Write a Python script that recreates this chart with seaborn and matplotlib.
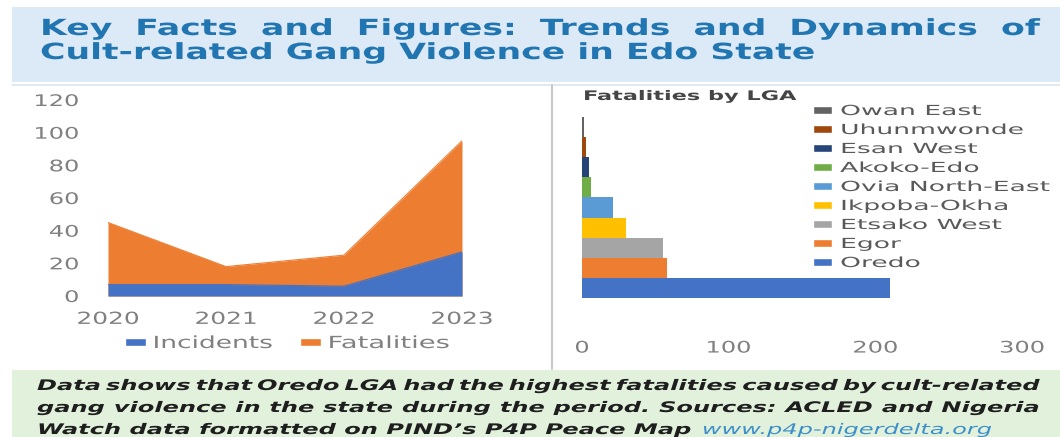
import matplotlib
matplotlib.use("Agg")
import matplotlib.pyplot as plt
import matplotlib.patheffects as pe
from matplotlib.patches import Rectangle, Patch
from matplotlib.lines import Line2D
from matplotlib.transforms import Affine2D
import seaborn as sns
import pandas as pd

# ---------------- data ----------------
years = [2020, 2021, 2022, 2023]
incidents = [7, 7, 6, 27]
fatalities = [45, 18, 25, 95]

lga_names = ["Owan East", "Uhunmwonde", "Esan West", "Akoko-Edo", "Ovia North-East",
             "Ikpoba-Okha", "Etsako West", "Egor", "Oredo"]
lga_fatalities = [1.5, 3, 4.5, 6, 21, 30, 55, 58, 210]
lga_colors = ["#636363", "#9E480E", "#264478", "#70AD47", "#5B9BD5",
              "#FFC000", "#A5A5A5", "#ED7D31", "#4472C4"]

title_lines = ["Key Facts and Figures: Trends and Dynamics of",
               "Cult-related Gang Violence in Edo State"]
note_lines = ["Data shows that Oredo LGA had the highest fatalities caused by cult-related",
              "gang violence in the state during the period. Sources: ACLED and Nigeria",
              "Watch data formatted on PIND\u2019s P4P Peace Map"]
note_link = "www.p4p-nigerdelta.org"


# horizontal stretch of glyph outlines (text stays a real Text artist)
class Stretch(pe.AbstractPathEffect):
    def __init__(self, sx, anchor="left"):
        super().__init__()
        self.sx = sx
        self.anchor = anchor

    def draw_path(self, renderer, gc, tpath, affine, rgbFace=None):
        if self.anchor == "left":
            x0 = affine.get_matrix()[0, 2]
        else:
            ext = tpath.get_extents(affine)
            x0 = 0.5 * (ext.x0 + ext.x1) if self.anchor == "center" else ext.x1
        new = affine + Affine2D().translate(-x0, 0).scale(self.sx, 1).translate(x0, 0)
        renderer.draw_path(gc, tpath, new, rgbFace)


# ---------------- figure ----------------
sns.set_theme(style="white")
plt.rcParams['font.family'] = ['DejaVu Sans']
W, H = 1060, 437
fig = plt.figure(figsize=(W / 100, H / 100), dpi=100)
fig.patch.set_facecolor("white")
renderer = fig.canvas.get_renderer()


def fx(px):
    return px / W


def fy(py):
    return 1 - py / H


def width_of(t):
    return t.get_window_extent(renderer).width


def fit(t, target, anchor="left"):
    sx = target / width_of(t)
    t.set_path_effects([Stretch(sx, anchor)])
    return sx


# background bands
fig.patches.append(Rectangle((fx(12), fy(82)), fx(1060) - fx(12), fy(7) - fy(82),
                             transform=fig.transFigure, facecolor="#DCE9F6", edgecolor="none", zorder=0))
fig.patches.append(Rectangle((fx(12), fy(437)), fx(1060) - fx(12), fy(370) - fy(437),
                             transform=fig.transFigure, facecolor="#E2F1DC", edgecolor="none", zorder=0))
fig.lines.append(Line2D([fx(12), fx(1060)], [fy(85), fy(85)], transform=fig.transFigure,
                        color="#DDE6EE", lw=1.2))
fig.lines.append(Line2D([fx(552), fx(552)], [fy(85), fy(369)], transform=fig.transFigure,
                        color="#C9C9C9", lw=1.5))


def justify(words, x0, x1, ypix, sx, **kw):
    texts = [fig.text(0, fy(ypix), w, va="baseline", ha="left", **kw) for w in words]
    widths = [width_of(t) * sx for t in texts]
    gap = (x1 - x0 - sum(widths)) / (len(words) - 1)
    x = x0
    for t, w in zip(texts, widths):
        t.set_x(fx(x))
        t.set_path_effects([Stretch(sx, "left")])
        x += w + gap


# title
tkw = dict(fontsize=16, fontweight="bold", color="#2176B2")
t2 = fig.text(fx(40), fy(59), title_lines[1], va="baseline", ha="left", **tkw)
sx_title = fit(t2, 817 - 40)
justify(title_lines[0].split(), 40, 1040, 35, sx_title, **tkw)

# bottom note
nkw = dict(fontsize=10.5, fontweight="bold", fontstyle="italic", color="#1E1E1E")
n3 = fig.text(fx(37), fy(434), note_lines[2] + " ", va="baseline", ha="left", **nkw)
lk = fig.text(0, fy(434), note_link, va="baseline", ha="left",
              fontsize=10.5, fontstyle="italic", color="#3D8FC9")
w3, wl = width_of(n3), width_of(lk)
sx_note = (993 - 37) / (w3 + wl)
n3.set_path_effects([Stretch(sx_note, "left")])
lk.set_path_effects([Stretch(sx_note, "left")])
lk.set_x(fx(37 + w3 * sx_note))
justify(note_lines[0].split(), 37, 1040, 390, sx_note, **nkw)
justify(note_lines[1].split(), 37, 1040, 412, sx_note, **nkw)

# ---------------- left: area chart ----------------
ax1 = fig.add_axes([fx(108), fy(296), fx(462) - fx(108), fy(100) - fy(296)])
df_years = pd.DataFrame({"year": years, "Incidents": incidents, "Fatalities": fatalities})
ax1.fill_between(df_years["year"], 0, df_years["Fatalities"], color="#ED7D31", lw=0)
ax1.fill_between(df_years["year"], 0, df_years["Incidents"], color="#4472C4", lw=0)
sns.lineplot(data=df_years, x="year", y="Fatalities", ax=ax1, color="#ED7D31", lw=0.8)
sns.lineplot(data=df_years, x="year", y="Incidents", ax=ax1, color="#4472C4", lw=0.8)
ax1.set_xlim(2020, 2023)
ax1.set_ylim(0, 120)
ax1.set_xticks(years)
ax1.set_xticklabels([str(y) for y in years])
ax1.set_yticks(range(0, 121, 20))
ax1.set_yticklabels([str(v) for v in range(0, 121, 20)])
ax1.set_xlabel("")
ax1.set_ylabel("")
ax1.set_facecolor("none")
for s in ax1.spines.values():
    s.set_visible(False)
ax1.tick_params(axis="y", length=0, pad=21, labelsize=11.5, labelcolor="#808080")
ax1.tick_params(axis="x", length=0, pad=10, labelsize=12, labelcolor="#808080")
ax1.grid(False)
xt = ax1.get_xticklabels()
sx_years = 63 / width_of(xt[0])
for t in xt:
    t.set_path_effects([Stretch(sx_years, "center")])
yt = ax1.get_yticklabels()
sx_y = 46 / width_of(yt[-1])
for t in yt:
    t.set_path_effects([Stretch(sx_y, "right")])

lkw = dict(frameon=False, fontsize=12, handlelength=1.25, handleheight=0.38,
           handletextpad=0.4, borderpad=0, borderaxespad=0, loc="center left",
           bbox_transform=fig.transFigure)
legA = ax1.legend(handles=[Patch(facecolor="#4472C4", label="Incidents")],
                  bbox_to_anchor=(fx(125), fy(343)), **lkw)
ax1.add_artist(legA)
legB = ax1.legend(handles=[Patch(facecolor="#ED7D31", label="Fatalities")],
                  bbox_to_anchor=(fx(300), fy(343)), **lkw)
for lg, target in ((legA, 120), (legB, 122)):
    for t in lg.get_texts():
        t.set_color("#808080")
        fit(t, target)

# ---------------- right: bar chart ----------------
ax2 = fig.add_axes([fx(582), fy(335), fx(1022) - fx(582), fy(100) - fy(335)])
df_lga = pd.DataFrame({"lga": lga_names, "fatalities": lga_fatalities})
sns.barplot(data=df_lga, x="fatalities", y="lga", hue="lga", order=lga_names,
            palette=dict(zip(lga_names, lga_colors)), dodge=False, width=1.0,
            saturation=1, linewidth=0, legend=False, ax=ax2)
ax2.set_xlim(0, 300)
ax2.set_ylim(10.33, -1.34)
ax2.set_xticks([0, 100, 200, 300])
ax2.set_xticklabels(["0", "100", "200", "300"])
ax2.set_yticks([])
ax2.set_xlabel("")
ax2.set_ylabel("")
ax2.set_facecolor("none")
for s in ax2.spines.values():
    s.set_visible(False)
ax2.tick_params(axis="x", length=0, pad=4, labelsize=11.5, labelcolor="#808080")
ax2.grid(False)
xt2 = ax2.get_xticklabels()
sx_x2 = 46 / width_of(xt2[1])
for t in xt2:
    t.set_path_effects([Stretch(sx_x2, "center")])

ttl = fig.text(fx(583), fy(100), "Fatalities by LGA", fontsize=9.5, fontweight="bold",
               color="#454545", ha="left", va="baseline")
fit(ttl, 798 - 583)

leg2 = fig.legend(handles=[Patch(facecolor=c, label=n) for n, c in zip(lga_names, lga_colors)],
                  loc="upper left", bbox_to_anchor=(fx(813), fy(104)), frameon=False,
                  fontsize=10, handlelength=1.37, handleheight=0.5, handletextpad=0.58,
                  labelspacing=0.36, borderpad=0, borderaxespad=0)
sx_leg = None
for t in leg2.get_texts():
    t.set_color("#595959")
    if t.get_text() == "Ovia North-East":
        sx_leg = 210 / width_of(t)
for t in leg2.get_texts():
    t.set_path_effects([Stretch(sx_leg, "left")])

fig.savefig("out.png", dpi=100, facecolor="white")
